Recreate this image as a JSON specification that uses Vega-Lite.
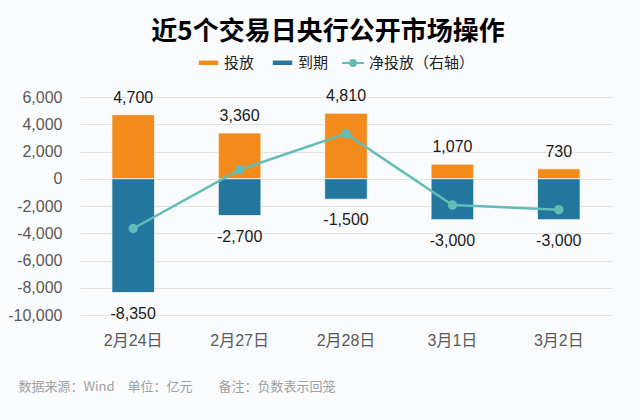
{
  "$schema": "https://vega.github.io/schema/vega-lite/v6.json",
  "width": 532,
  "height": 218,
  "autosize": {"type": "none"},
  "padding": {"left": 80, "top": 97, "right": 28, "bottom": 105},
  "background": "#fafbfd",
  "title": {
    "text": "近5个交易日央行公开市场操作",
    "fontSize": 26,
    "fontWeight": "bold",
    "font": "Noto Sans CJK SC",
    "color": "#000000",
    "anchor": "middle",
    "frame": "group",
    "dx": -18,
    "offset": 6
  },
  "data": {
    "values": [
      {"日期": "2月24日", "投放": 4700, "到期": -8350, "净投放": -3650},
      {"日期": "2月27日", "投放": 3360, "到期": -2700, "净投放": 660},
      {"日期": "2月28日", "投放": 4810, "到期": -1500, "净投放": 3310},
      {"日期": "3月1日", "投放": 1070, "到期": -3000, "净投放": -1930},
      {"日期": "3月2日", "投放": 730, "到期": -3000, "净投放": -2270}
    ]
  },
  "encoding": {
    "x": {
      "field": "日期",
      "type": "nominal",
      "sort": null,
      "scale": {"paddingInner": 0.6, "paddingOuter": 0.3},
      "axis": {
        "title": "数据来源：Wind\u3000单位：亿元\u3000\u3000备注：负数表示回笼",
        "labelAngle": 0,
        "domain": false,
        "ticks": false,
        "labelPadding": 17,
        "labelFontSize": 16,
        "labelColor": "#595959",
        "labelFont": "Liberation Sans, Noto Sans CJK SC",
        "titleX": -62,
        "titleY": 71,
        "titleAlign": "left",
        "titleAnchor": "start",
        "titleBaseline": "middle",
        "titleFontSize": 13,
        "titleFontWeight": "normal",
        "titleColor": "#a0a0a0",
        "titleFont": "Noto Sans CJK SC"
      }
    }
  },
  "layer": [
    {
      "mark": {"type": "bar", "stroke": "#ffffff", "strokeWidth": 1, "strokeOpacity": 0.7},
      "encoding": {
        "y": {
          "field": "投放",
          "type": "quantitative",
          "title": null,
          "scale": {"domain": [-10000, 6000], "nice": false},
          "axis": {"values": [-10000, -8000, -6000, -4000, -2000, 0, 2000, 4000, 6000], "format": ",.0f", "title": null, "domain": false, "ticks": false, "labelPadding": 18, "labelFontSize": 16, "labelColor": "#595959", "labelFont": "Liberation Sans", "gridColor": "#e3e3e3"}
        },
        "color": {
          "datum": "投放",
          "scale": {
            "domain": ["投放", "到期"],
            "range": ["#F38A1C", "#23779F"]
          },
          "legend": {
            "title": null,
            "orient": "none",
            "legendX": 117,
            "legendY": -46,
            "direction": "horizontal",
            "labelFontSize": 15,
            "labelFont": "Noto Sans CJK SC",
            "labelColor": "#222222",
            "symbolSize": 441,
            "labelOffset": 4,
            "columnPadding": 14,
            "symbolType": "M-1,-0.29H1V0.29H-1Z",
            "symbolOpacity": 1
          }
        }
      }
    },
    {
      "mark": {"type": "bar", "stroke": "#ffffff", "strokeWidth": 1, "strokeOpacity": 0.7},
      "encoding": {
        "y": {
          "field": "到期", "type": "quantitative", "title": null,
          "axis": {"values": [-10000, -8000, -6000, -4000, -2000, 0, 2000, 4000, 6000], "format": ",.0f", "title": null, "domain": false, "ticks": false, "labelPadding": 18, "labelFontSize": 16, "labelColor": "#595959", "labelFont": "Liberation Sans", "gridColor": "#e3e3e3"}
        },
        "color": {"datum": "到期"}
      }
    },
    {
      "mark": {"type": "line", "strokeWidth": 2.5},
      "encoding": {
        "y": {
          "field": "净投放", "type": "quantitative", "title": null,
          "axis": {"values": [-10000, -8000, -6000, -4000, -2000, 0, 2000, 4000, 6000], "format": ",.0f", "title": null, "domain": false, "ticks": false, "labelPadding": 18, "labelFontSize": 16, "labelColor": "#595959", "labelFont": "Liberation Sans", "gridColor": "#e3e3e3"}
        },
        "stroke": {
          "datum": "净投放（右轴）",
          "scale": {"domain": ["净投放（右轴）"], "range": ["#62BDB8"]},
          "legend": {
            "title": null,
            "orient": "none",
            "legendX": 261,
            "legendY": -46,
            "direction": "horizontal",
            "labelFontSize": 15,
            "labelFont": "Noto Sans CJK SC",
            "labelColor": "#222222",
            "symbolSize": 484,
            "labelOffset": 4,
            "symbolType": "M-1,0H1M-0.27,0A0.27,0.27 0 1,0 0.27,0A0.27,0.27 0 1,0 -0.27,0Z",
            "symbolStrokeWidth": 2,
            "symbolFillColor": "#62BDB8",
            "symbolOpacity": 1,
            "encode": {
              "symbols": {
                "update": {
                  "fill": {"value": "#62BDB8"},
                  "stroke": {"value": "#62BDB8"},
                  "strokeWidth": {"value": 2}
                }
              }
            }
          }
        }
      }
    },
    {
      "mark": {"type": "point", "filled": true, "fill": "#62BDB8", "size": 55, "opacity": 1},
      "encoding": {
        "y": {
          "field": "净投放", "type": "quantitative", "title": null,
          "axis": {"values": [-10000, -8000, -6000, -4000, -2000, 0, 2000, 4000, 6000], "format": ",.0f", "title": null, "domain": false, "ticks": false, "labelPadding": 18, "labelFontSize": 16, "labelColor": "#595959", "labelFont": "Liberation Sans", "gridColor": "#e3e3e3"}
        },
        "stroke": {"datum": "净投放（右轴）"}
      }
    },
    {
      "mark": {"type": "text", "dy": -17, "baseline": "middle", "fontSize": 16, "font": "Liberation Sans", "color": "#1a1a1a"},
      "encoding": {
        "y": {
          "field": "投放", "type": "quantitative", "title": null,
          "axis": {"values": [-10000, -8000, -6000, -4000, -2000, 0, 2000, 4000, 6000], "format": ",.0f", "title": null, "domain": false, "ticks": false, "labelPadding": 18, "labelFontSize": 16, "labelColor": "#595959", "labelFont": "Liberation Sans", "gridColor": "#e3e3e3"}
        },
        "text": {"field": "投放", "type": "quantitative", "format": ","}
      }
    },
    {
      "mark": {"type": "text", "dy": 21, "baseline": "middle", "fontSize": 16, "font": "Liberation Sans", "color": "#1a1a1a"},
      "encoding": {
        "y": {
          "field": "到期", "type": "quantitative", "title": null,
          "axis": {"values": [-10000, -8000, -6000, -4000, -2000, 0, 2000, 4000, 6000], "format": ",.0f", "title": null, "domain": false, "ticks": false, "labelPadding": 18, "labelFontSize": 16, "labelColor": "#595959", "labelFont": "Liberation Sans", "gridColor": "#e3e3e3"}
        },
        "text": {"field": "到期", "type": "quantitative", "format": ","}
      }
    }
  ],
  "config": {
    "view": {"stroke": null},
    "locale": {
      "number": {"decimal": ".", "thousands": ",", "grouping": [3], "currency": ["$", ""], "minus": "-"}
    }
  }
}
